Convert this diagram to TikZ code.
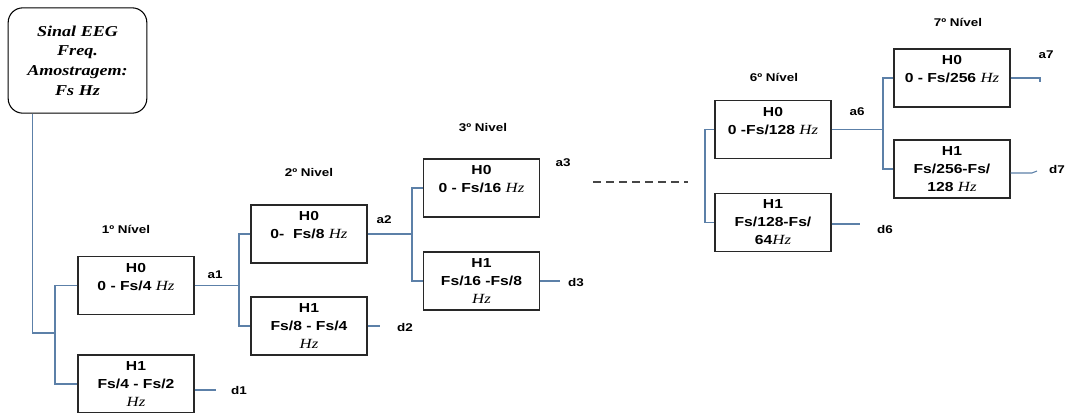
\documentclass[tikz,border=0pt]{standalone}
\usepackage{fontspec}
\setmainfont{Liberation Sans}
\newfontfamily\boxsf[FakeStretch=1.2]{Liberation Sans}
\newfontfamily\boxrm[FakeStretch=1.2]{Liberation Serif}
\usetikzlibrary{calc}
\newcommand{\Hzi}{{\boxrm\mdseries\itshape\fontsize{10.5}{13.5}\selectfont Hz}}
\definecolor{wirec}{RGB}{92,128,168}
\definecolor{boxc}{RGB}{40,40,40}
\definecolor{dashc}{RGB}{70,70,70}
\tikzset{
  box/.style={draw=boxc, line width=1.1pt, minimum width=87pt, minimum height=43.5pt,
    inner sep=0pt, align=center, font=\boxsf\bfseries\fontsize{9.8}{13.5}\selectfont},
  src/.style={draw=black, line width=0.8pt, rounded corners=11pt, minimum width=104pt,
    minimum height=79pt, inner sep=0pt, align=center,
    font=\boxrm\bfseries\itshape\fontsize{11.3}{14.8}\selectfont},
  lbl/.style={inner sep=0pt, font=\boxsf\bfseries\fontsize{8.4}{10}\selectfont},
  wire/.style={draw=wirec, line width=0.8pt}
}
\begin{document}
\begin{tikzpicture}[x=0.75pt,y=-0.75pt]
\useasboundingbox (0,0) rectangle (1067,412);

% source
\node[src] (src) at (77.5,60.5) {Sinal EEG\\Freq.\\Amostragem:\\Fs Hz};

% boxes
\node[box] (l1h0) at (136,285.5) {H0\\0 - Fs/4 \Hzi\\~};
\node[box] (l1h1) at (136,384) {H1\\Fs/4 - Fs/2\\\Hzi};
\node[box] (l2h0) at (309,234) {H0\\0-\ \ Fs/8 \Hzi\\~};
\node[box] (l2h1) at (309,326) {H1\\Fs/8 - Fs/4\\\Hzi};
\node[box] (l3h0) at (481.5,188) {H0\\0 - Fs/16 \Hzi\\~};
\node[box] (l3h1) at (481.5,281) {H1\\Fs/16 -Fs/8\\\Hzi};
\node[box] (l6h0) at (773,129.5) {H0\\0 -Fs/128 \Hzi\\~};
\node[box] (l6h1) at (773,222.5) {H1\\Fs/128-Fs/\\64\Hzi};
\node[box] (l7h0) at (952,78) {H0\\0 - Fs/256 \Hzi\\~};
\node[box] (l7h1) at (952,169) {H1\\Fs/256-Fs/\\128 \Hzi};

% level labels
\node[lbl] (n1) at (126,229) {1º Nível};
\node[lbl] (n2) at (309,172) {2º Nivel};
\node[lbl] (n3) at (483,127) {3º Nivel};
\node[lbl] (n6) at (774,77) {6º Nível};
\node[lbl] (n7) at (958,22) {7º Nível};

% a / d labels
\node[lbl] (a1) at (215,275) {a1};
\node[lbl] (a2) at (384,220) {a2};
\node[lbl] (a3) at (563,163) {a3};
\node[lbl] (a6) at (857,112) {a6};
\node[lbl] (a7) at (1046,55) {a7};
\node[lbl] (d1) at (239,390) {d1};
\node[lbl] (d2) at (405,327) {d2};
\node[lbl] (d3) at (576,282) {d3};
\node[lbl] (d6) at (885,229) {d6};
\node[lbl] (d7) at (1057,169) {d7};

% junction coordinates
\coordinate (j1) at (55,333);
\coordinate (j2) at (239,285.5);
\coordinate (j3) at (412,234);
\coordinate (j6) at (705,175);
\coordinate (j7) at (883,129.5);
\coordinate (d1e) at (216,390);
\coordinate (d2e) at (380,326);
\coordinate (d3e) at (560,281);
\coordinate (d6e) at (860,224);
\coordinate (d7e) at (1032,173);
\coordinate (a7e) at (1040,78);
\coordinate (dsA) at (593,182);
\coordinate (dsB) at (688,182);

% connectors
\draw[wire] ([xshift=18.75pt]src.south west) |- (j1);
\draw[wire] (l1h0.west) -| (j1) |- (l1h1.west);
\draw[wire] (l1h0.east) -- (j2);
\draw[wire] (l2h0.west) -| (j2) |- (l2h1.west);
\draw[wire] (l2h0.east) -- (j3);
\draw[wire] (l3h0.west) -| (j3) |- (l3h1.west);
\draw[wire] (l6h0.west) -| (j6) |- (l6h1.west);
\draw[wire] (l6h0.east) -- (j7);
\draw[wire] (l7h0.west) -| (j7) |- (l7h1.west);

\draw[wire] (l1h1.east |- d1e) -- (d1e);
\draw[wire] (l2h1.east) -- (d2e);
\draw[wire] (l3h1.east) -- (d3e);
\draw[wire] (l6h1.east |- d6e) -- (d6e);
\draw[wire] (l7h1.east |- d7e) -- (d7e) -- ++(5,-2);
\draw[wire] (l7h0.east) -- (a7e) -- ++(0,4);

\draw[draw=dashc, line width=1pt, dash pattern=on 6pt off 3.75pt] (dsA) -- (dsB);
\end{tikzpicture}
\end{document}
